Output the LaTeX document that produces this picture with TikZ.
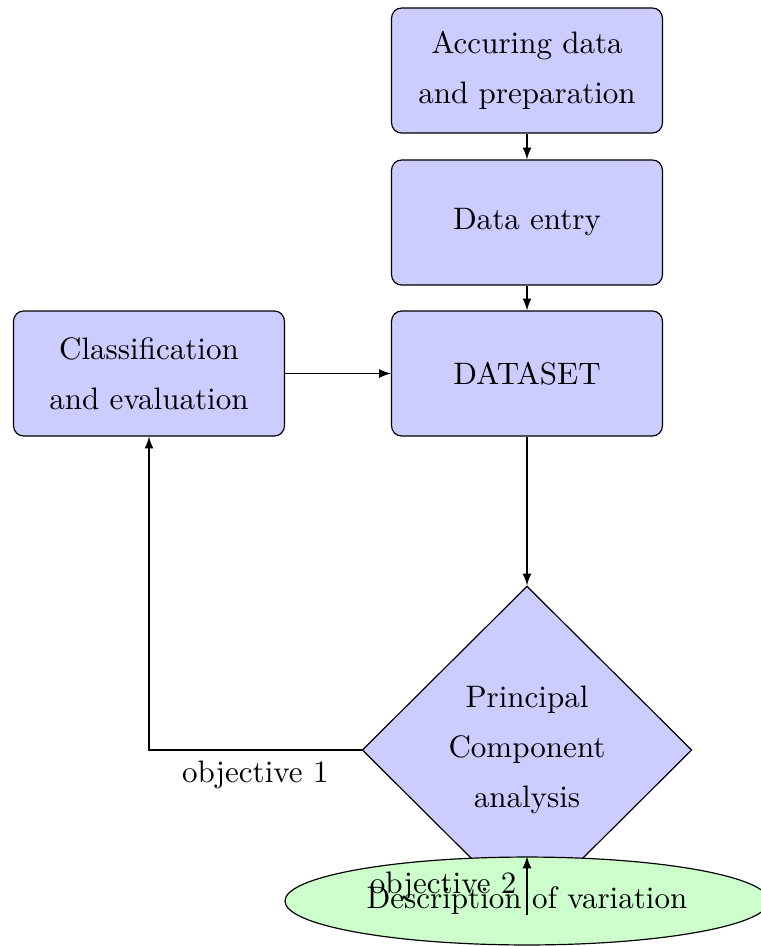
\documentclass[tikz,border=0pt]{standalone}
\usetikzlibrary{shapes.geometric,arrows}
\begin{document}
\begin{tikzpicture}[x=0.3367pt,y=-0.3367pt,
  every node/.style={font=\fontsize{10.45}{16.8}\selectfont},
  boxstyle/.style={draw, rounded corners=3.4pt, fill=blue!20, minimum width=91.2pt, minimum height=42.1pt, align=center, inner sep=0pt},
  decstyle/.style={draw, diamond, fill=blue!20, minimum width=111pt, minimum height=110.4pt, align=center, inner sep=0pt},
  ellstyle/.style={draw, ellipse, fill=green!20, minimum width=163pt, minimum height=29.6pt, inner sep=0pt},
  conn/.style={draw, -latex, line width=0.4pt}]
\clip (0,0) rectangle (761,946);
\node[boxstyle] (acq) at (527,70.5) {Accuring data\\and preparation};
\node[boxstyle] (entry) at (527,222.5) {Data entry};
\node[boxstyle] (ds) at (527,373.5) {DATASET};
\node[boxstyle] (cls) at (149,373.5) {Classification\\and evaluation};
\node[decstyle] (pca) at (527,750) {Principal\\Component\\analysis};
\node[ellstyle] (desc) at (527,901) {Description of variation};
\path[conn] (acq) -- (entry);
\path[conn] (entry) -- (ds);
\path[conn] (cls) -- (ds);
\path[conn] (ds) -- (pca);
\path[conn] (pca.west) -| node[pos=0.25, below] {objective 1} (cls.south);
\path[conn] (pca.south) -- node[left] {objective 2} (desc.north);
\end{tikzpicture}
\end{document}
